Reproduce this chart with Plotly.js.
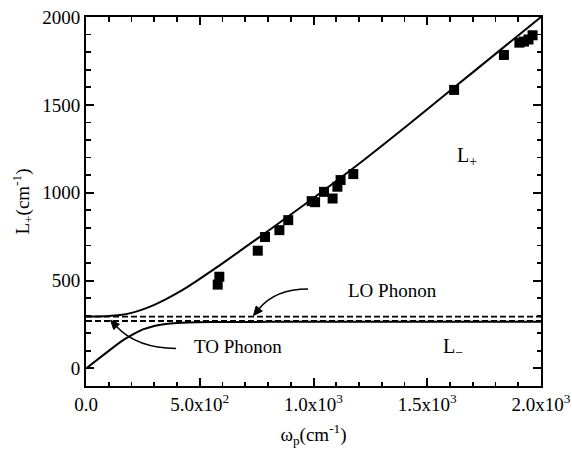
<!DOCTYPE html>
<html>
<head>
<meta charset="utf-8">
<script src="https://cdn.plot.ly/plotly-3.0.1.min.js"></script>
<style>html,body{margin:0;padding:0;background:#fff;}#chart{width:572px;height:449px;}</style>
</head>
<body>
<div id="chart"></div>
<script>
// Measured data (squares)
const dataX = [579, 586, 755, 787, 850, 889, 992, 1007, 1046, 1084, 1105, 1119, 1175, 1618, 1837, 1905, 1925, 1945, 1963];
const dataY = [477, 522, 670, 748, 787, 844, 952, 946, 1005, 967, 1034, 1072, 1106, 1585, 1784, 1854, 1860, 1872, 1896];

// Upper coupled mode L+
const lPlusX = [0, 100, 150, 200, 250, 300, 350, 400, 450, 500, 600, 700, 800, 900, 1000, 1200, 1400, 1600, 1800, 2000];
const lPlusY = [295, 298, 304, 316, 336, 362, 393, 428, 467, 510, 598, 690, 782, 876, 970, 1165, 1370, 1580, 1790, 2000];

// Lower coupled mode L-
const lMinusX = [0, 80, 160, 210, 250, 300, 350, 400, 450, 550, 800, 2000];
const lMinusY = [0, 80, 158, 196, 222, 242, 253, 259, 262, 264, 265, 265];

// Phonon reference lines
const phononX = [0, 2000];
const loPhonon = [295, 295];
const toPhonon = [270, 270];

// Tick labels
const xTickVals = [0, 500, 1000, 1500, 2000];
const xTickText = ['0.0', '5.0x10<sup>2</sup>', '1.0x10<sup>3</sup>', '1.5x10<sup>3</sup>', '2.0x10<sup>3</sup>'];
const yTickVals = [0, 500, 1000, 1500, 2000];
const yTickText = ['0', '500', '1000', '1500', '2000'];

const FONT = 'Liberation Serif, Times New Roman, serif';

const traces = [
  {x: phononX, y: loPhonon, mode: 'lines', line: {color: '#000', width: 1.8, dash: '6px,3px'}, hoverinfo: 'skip'},
  {x: phononX, y: toPhonon, mode: 'lines', line: {color: '#000', width: 1.8, dash: '6px,3px'}, hoverinfo: 'skip'},
  {x: lPlusX, y: lPlusY, mode: 'lines', line: {color: '#000', width: 2, shape: 'spline', smoothing: 0.8}},
  {x: lMinusX, y: lMinusY, mode: 'lines', line: {color: '#000', width: 2, shape: 'spline', smoothing: 0.8}},
  {x: dataX, y: dataY, mode: 'markers', marker: {symbol: 'square', size: 10, color: '#000'}}
];

const axisCommon = {
  showline: true, linewidth: 2, linecolor: '#000', mirror: 'ticks',
  ticks: 'inside', ticklen: 8, tickwidth: 2, tickcolor: '#000',
  showgrid: false, zeroline: false,
  tickfont: {family: FONT, size: 19, color: '#000'},
  minor: {ticks: 'inside', ticklen: 4.5, tickwidth: 1.6, tickcolor: '#000', dtick: 100, showgrid: false}
};

const layout = {
  width: 572, height: 449,
  margin: {l: 86, r: 31, t: 17, b: 63},
  paper_bgcolor: '#fff', plot_bgcolor: '#fff',
  showlegend: false,
  font: {family: FONT, color: '#000'},
  xaxis: Object.assign({}, axisCommon, {
    range: [0, 2000], tickmode: 'array', tickvals: xTickVals, ticktext: xTickText,
    title: {text: 'ω<sub>p</sub>(cm<sup>-1</sup>)', font: {family: FONT, size: 19, color: '#000'}, standoff: 14}
  }),
  yaxis: Object.assign({}, axisCommon, {
    range: [-100, 2000], tickmode: 'array', tickvals: yTickVals, ticktext: yTickText,
    title: {text: 'L<sub>+</sub>(cm<sup>-1</sup>)', font: {family: FONT, size: 19, color: '#000'}, standoff: 8}
  }),
  shapes: [
    // LO arrow: curved shaft + filled head
    {type: 'path', xref: 'x', yref: 'y', path: 'M 976,452 Q 831,452 760,338', line: {color: '#000', width: 1.5}},
    {type: 'path', xref: 'x', yref: 'y', path: 'M 736,301 L 775,326 L 748,355 Z', fillcolor: '#000', line: {color: '#000', width: 1}},
    // TO arrow: curved shaft + filled head
    {type: 'path', xref: 'x', yref: 'y', path: 'M 396,114 Q 224,114 134,238', line: {color: '#000', width: 1.5}},
    {type: 'path', xref: 'x', yref: 'y', path: 'M 108,274 L 147,252 L 122,221 Z', fillcolor: '#000', line: {color: '#000', width: 1}}
  ],
  annotations: [
    {x: 1622, y: 1205, xref: 'x', yref: 'y', xanchor: 'left', yanchor: 'middle', text: 'L<sub>+</sub>', showarrow: false, font: {family: FONT, size: 20, color: '#000'}},
    {x: 1560, y: 120, xref: 'x', yref: 'y', xanchor: 'left', yanchor: 'middle', text: 'L<sub>−</sub>', showarrow: false, font: {family: FONT, size: 20, color: '#000'}},
    {x: 1349, y: 446, xref: 'x', yref: 'y', xanchor: 'center', yanchor: 'middle', text: 'LO Phonon', showarrow: false, font: {family: FONT, size: 19, color: '#000'}},
    {x: 668, y: 122, xref: 'x', yref: 'y', xanchor: 'center', yanchor: 'middle', text: 'TO Phonon', showarrow: false, font: {family: FONT, size: 19, color: '#000'}}
  ]
};

Plotly.newPlot('chart', traces, layout, {displayModeBar: false, staticPlot: true});
</script>
</body>
</html>
